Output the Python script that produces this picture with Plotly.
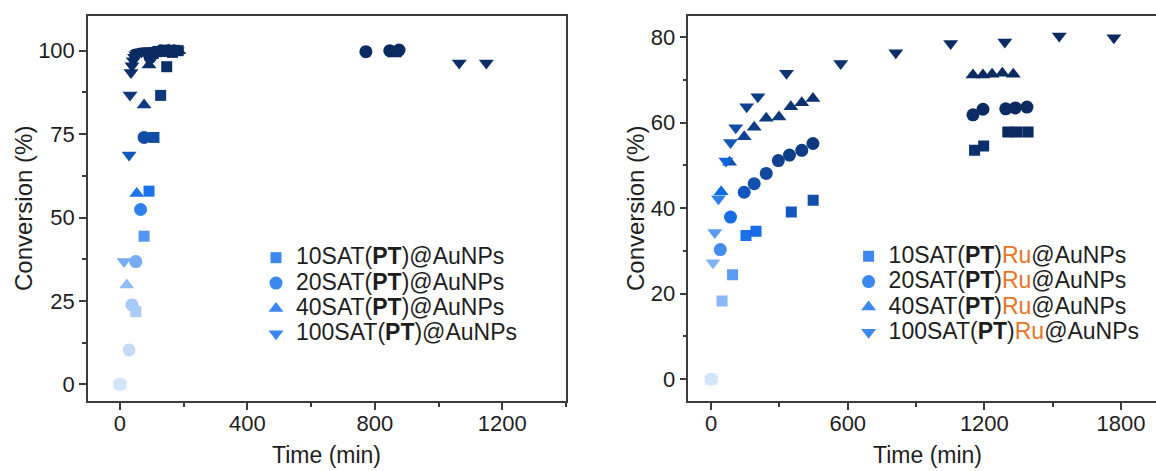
import plotly.graph_objects as go

# ---------------- data: left panel (x@AuNPs) ----------------
L10_t = [0, 50, 76, 91.5, 107, 128, 147, 165, 183]
L10_c = [0, 21.8, 44.4, 57.9, 74, 86.6, 95.2, 99.5, 100]

L20_t = [0, 29, 38, 50, 65, 76, 95, 110, 130, 150, 170, 772, 847, 876]
L20_c = [0, 10.3, 23.8, 36.8, 52.4, 74, 98, 99.5, 100, 100, 100, 99.7, 100, 100.2]

L40_t = [0, 21.6, 53, 76, 91.5, 100, 110, 125, 140, 155, 170, 185, 862]
L40_c = [0, 29.8, 57.2, 83.7, 95.7, 98.5, 99.5, 100, 100, 100.2, 100, 100, 99.0]

L100_t = [0, 13, 29, 32, 35, 38, 42, 46, 50, 55, 60, 68, 76, 84, 92, 100, 110, 120,
          130, 140, 150, 160, 170, 180, 1065, 1150]
L100_c = [0, 36.8, 68.7, 86.7, 93.5, 95.5, 97, 98, 98.8, 99.2, 99.5, 99.7, 99.8, 100,
          100, 100, 100, 100, 100.3, 100, 100.2, 100, 100, 100, 96.3, 96.3]

# ---------------- data: right panel (xRu@AuNPs) ----------------
R10_t = [0, 48, 94, 153, 197, 352, 448, 1157, 1197, 1303, 1344, 1392]
R10_c = [0, 18.3, 24.4, 33.6, 34.6, 39.1, 41.8, 53.5, 54.5, 57.8, 57.8, 57.8]

R20_t = [0, 40, 85, 145, 189, 242, 295, 344, 398, 447, 1150, 1194, 1294, 1336, 1387]
R20_c = [0, 30.3, 37.9, 43.7, 45.7, 48.1, 51.1, 52.4, 53.5, 55.1, 61.8, 63.1, 63.2, 63.4, 63.6]

R40_t = [0, 44, 81, 145, 189, 242, 298, 350, 398, 447, 1150, 1194, 1234, 1279, 1327]
R40_c = [0, 43.8, 50.7, 56.7, 58.9, 61.0, 61.3, 63.7, 64.6, 65.6, 71.1, 71.1, 71.3, 71.5, 71.3]

R100_t = [0, 8, 16, 32, 65, 85, 108, 156, 205, 331, 569, 811, 1052, 1290, 1529, 1769]
R100_c = [0, 27.2, 34.3, 42.2, 51.0, 55.3, 58.8, 63.7, 66.0, 71.5, 73.8, 76.3, 78.5, 78.8, 80.2, 79.8]

SYMBOLS = ["square", "circle", "triangle-up", "triangle-down"]
SIZES = [11, 13, 13, 13]
LOADINGS = ["10", "20", "40", "100"]

# colour map (fraction of series maximum -> colour)
STOPS = [(0.0, "#d3e5fb"), (0.12, "#c2daf8"), (0.25, "#a3c7f6"), (0.35, "#7db1f3"),
         (0.45, "#4f94ef"), (0.55, "#2479ee"), (0.62, "#0f68e4"), (0.70, "#1353b3"),
         (0.80, "#0f418f"), (0.90, "#0c3371"), (1.0, "#0a2a60")]


def hex2rgb(h):
    return tuple(int(h[i:i + 2], 16) for i in (1, 3, 5))


def cmap(f):
    f = max(0.0, min(1.0, f))
    for (f0, c0), (f1, c1) in zip(STOPS[:-1], STOPS[1:]):
        if f <= f1:
            a = (f - f0) / (f1 - f0) if f1 > f0 else 0
            r0, g0, b0 = hex2rgb(c0)
            r1, g1, b1 = hex2rgb(c1)
            return "rgb(%d,%d,%d)" % (round(r0 + (r1 - r0) * a), round(g0 + (g1 - g0) * a),
                                      round(b0 + (b1 - b0) * a))
    return STOPS[-1][1]


LEG_COLOR = "#3b88ee"
AX_COLOR = "#3c3c3c"
TXT_COLOR = "#1e1e1e"
FONT = "Liberation Sans, Arial, sans-serif"
W, H = 1156, 471

fig = go.Figure()

left = [(L10_t, L10_c), (L20_t, L20_c), (L40_t, L40_c), (L100_t, L100_c)]
right = [(R10_t, R10_c), (R20_t, R20_c), (R40_t, R40_c), (R100_t, R100_c)]

for panel, (xa, ya) in zip([left, right], [("x", "y"), ("x2", "y2")]):
    for i, (t, c) in enumerate(panel):
        m = max(c)
        fig.add_trace(go.Scatter(
            x=t, y=c, mode="markers", xaxis=xa, yaxis=ya, showlegend=False,
            marker=dict(symbol=SYMBOLS[i], size=SIZES[i],
                        color=[cmap(v / m) for v in c], line=dict(width=0)),
            hoverinfo="x+y"))

LEG_FS = 23
for i in range(4):
    nm_l = "<span style='font-size:%dpx'>%sSAT(<b>PT</b>)@AuNPs</span>" % (LEG_FS, LOADINGS[i])
    nm_r = ("<span style='font-size:%dpx'>%sSAT(<b>PT</b>)<span style='color:#ea7424'>Ru</span>"
            "@AuNPs</span>" % (LEG_FS, LOADINGS[i]))
    for nm, xa, ya, leg in [(nm_l, "x", "y", "legend"), (nm_r, "x2", "y2", "legend2")]:
        fig.add_trace(go.Scatter(
            x=[None], y=[None], mode="markers", xaxis=xa, yaxis=ya, name=nm, legend=leg,
            marker=dict(symbol=SYMBOLS[i], size=SIZES[i], color=LEG_COLOR)))

axis_common = dict(showgrid=False, zeroline=False, showline=True, linecolor=AX_COLOR,
                   linewidth=1.5, ticks="outside", ticklen=7, tickwidth=1.5,
                   tickcolor=AX_COLOR, tickfont=dict(size=22, color=TXT_COLOR, family=FONT),
                   automargin=False)
minor_common = dict(tick0=0, ticks="outside", ticklen=4, tickwidth=1.5, tickcolor=AX_COLOR)

fig.update_layout(
    width=W, height=H,
    margin=dict(l=0, r=0, t=16, b=70),
    paper_bgcolor="white", plot_bgcolor="white",
    font=dict(family=FONT, color=TXT_COLOR),
    xaxis=dict(domain=[88 / W, 566 / W], range=[-100, 1400], tick0=0, dtick=400, mirror=True,
               anchor="y", ticklabelstandoff=-5, minor=dict(dtick=200, **minor_common),
               **axis_common),
    yaxis=dict(domain=[0, 1], range=[-5, 110.4], tick0=0, dtick=25, mirror=True, anchor="x",
               minor=dict(dtick=12.5, **minor_common), **axis_common),
    xaxis2=dict(domain=[688.4 / W, 1], range=[-100, 1954], tick0=0, dtick=600, mirror=True,
                anchor="y2", ticklabelstandoff=-5, minor=dict(dtick=300, **minor_common),
                **axis_common),
    yaxis2=dict(domain=[0, 1], range=[-5.1, 84.9], tick0=0, dtick=20, mirror=False, anchor="x2",
                minor=dict(dtick=10, **minor_common), **axis_common),
    legend=dict(x=256 / W, y=0.2727, xanchor="left", yanchor="middle",
                bgcolor="rgba(0,0,0,0)", borderwidth=0,
                font=dict(size=17.2, family=FONT, color=TXT_COLOR)),
    legend2=dict(x=848.6 / W, y=0.2766, xanchor="left", yanchor="middle",
                 bgcolor="rgba(0,0,0,0)", borderwidth=0,
                 font=dict(size=17.2, family=FONT, color=TXT_COLOR)),
)

plot_h = H - 16 - 70
for xc, txt, ang, yc, fs in [(23, "Conversion (%)", -90, 209, 24),
                             (635, "Conversion (%)", -90, 209, 24),
                             (326.5, "Time (min)", 0, 455, 23),
                             (927, "Time (min)", 0, 455, 23)]:
    fig.add_annotation(x=xc / W, y=(H - 70 - yc) / plot_h, xref="paper", yref="paper",
                       text=txt, textangle=ang, showarrow=False,
                       font=dict(size=fs, family=FONT, color=TXT_COLOR),
                       xanchor="center", yanchor="middle")

fig.write_html("out.html")
